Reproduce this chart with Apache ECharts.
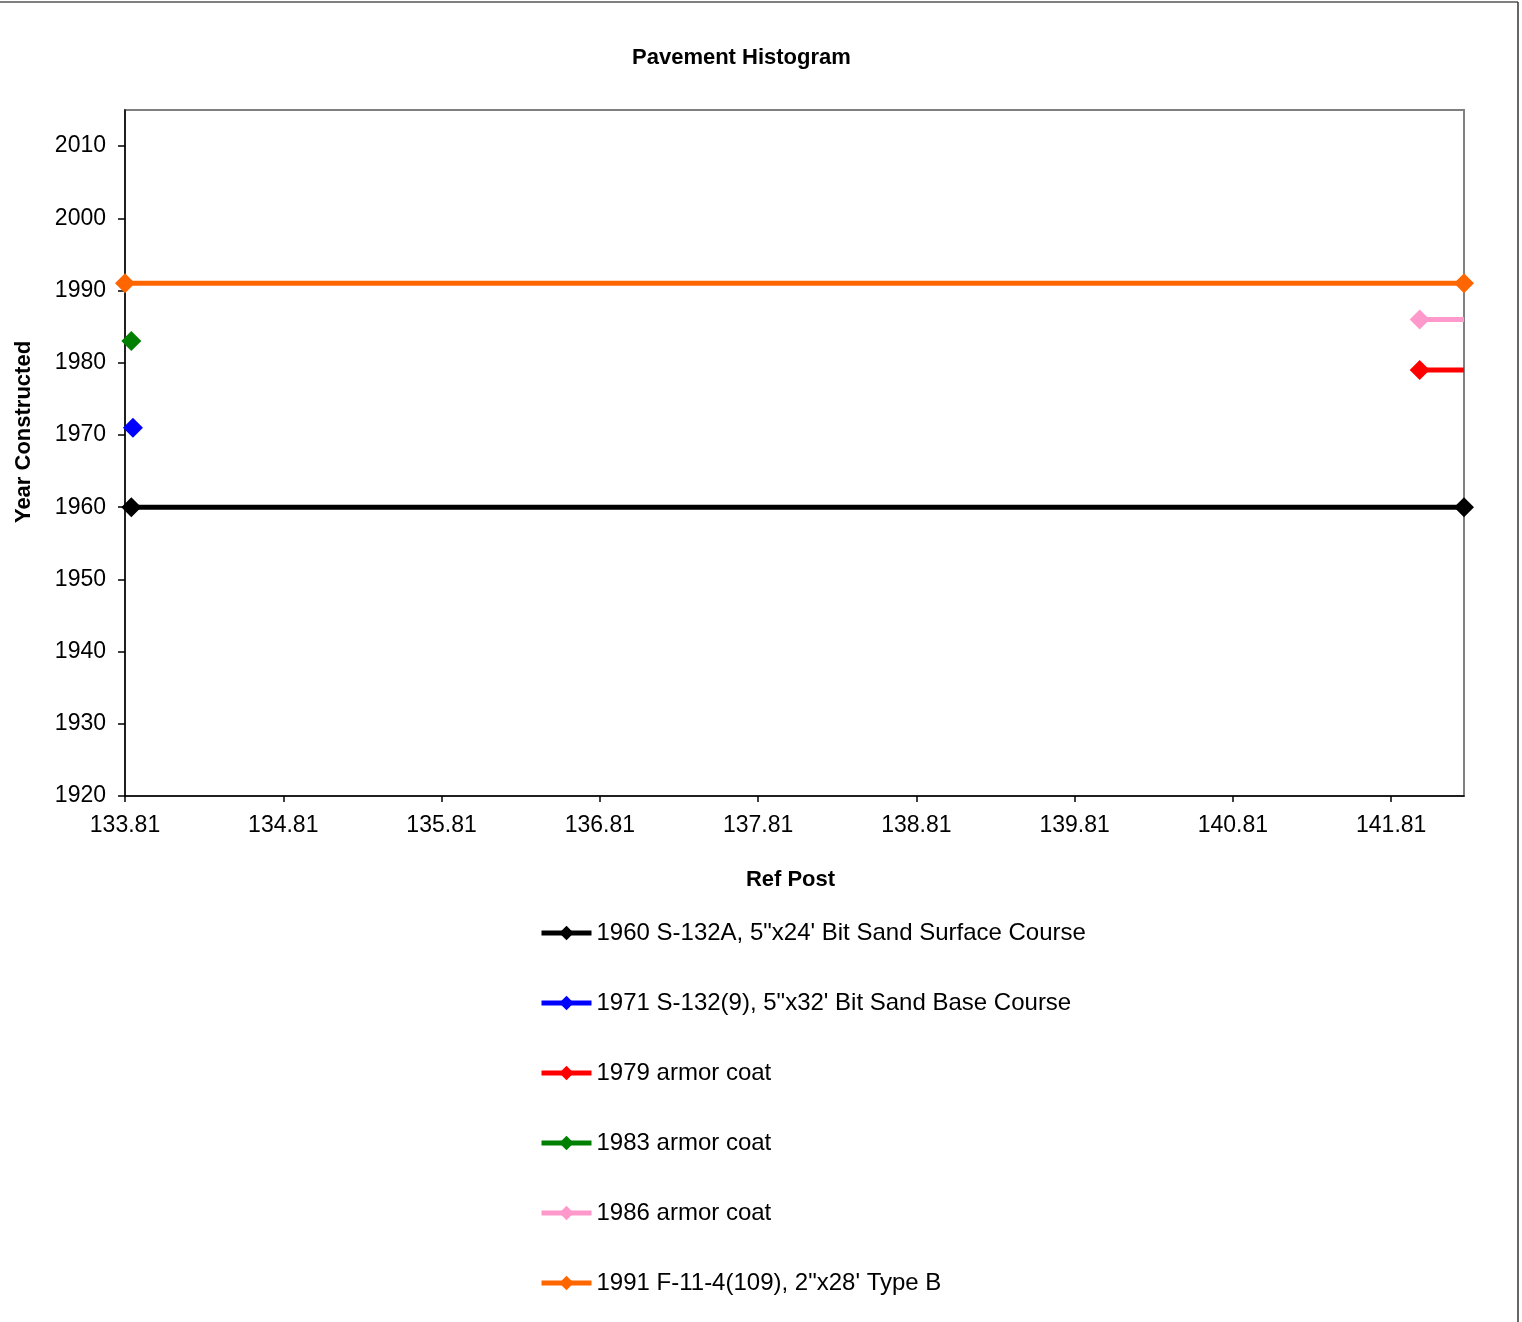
<!DOCTYPE html>
<html>
<head>
<meta charset="utf-8">
<script src="https://cdn.jsdelivr.net/npm/echarts@6/dist/echarts.min.js"></script>
<style>
html,body{margin:0;padding:0;background:#fff;}
#chart{width:1522px;height:1322px;}
</style>
</head>
<body>
<div id="chart"></div>
<script>
// ---- data ----
const seriesNames = [
  '1960 S-132A, 5"x24\' Bit Sand Surface Course',
  '1971 S-132(9), 5"x32\' Bit Sand Base Course',
  '1979 armor coat',
  '1983 armor coat',
  '1986 armor coat',
  '1991 F-11-4(109), 2"x28\' Type B'
];
const seriesColors = ['#000000', '#0000FF', '#FF0000', '#008000', '#FF99CC', '#FF6600'];
const refPost1960 = [133.85, 142.27];
const year1960 = [1960, 1960];
const refPost1971 = [133.86];
const year1971 = [1971];
const refPost1979 = [141.99, 142.27];
const year1979 = [1979, 1979];
const refPost1983 = [133.85];
const year1983 = [1983];
const refPost1986 = [141.99, 142.27];
const year1986 = [1986, 1986];
const refPost1991 = [133.81, 142.27];
const year1991 = [1991, 1991];
const xTicks = [133.81, 134.81, 135.81, 136.81, 137.81, 138.81, 139.81, 140.81, 141.81];
const yTicks = [1920, 1930, 1940, 1950, 1960, 1970, 1980, 1990, 2000, 2010];
const xMin = 133.81, xMax = 142.27, yMin = 1920, yMax = 2015;

const xs = [refPost1960, refPost1971, refPost1979, refPost1983, refPost1986, refPost1991];
const ys = [year1960, year1971, year1979, year1983, year1986, year1991];
// which end points carry no marker (line just reaches the edge)
const noEndMarker = [false, false, true, false, true, false];

const font = '"Liberation Sans", Arial, sans-serif';

const series = seriesNames.map((name, i) => ({
  name: name,
  type: 'line',
  clip: true,
  symbol: 'diamond',
  symbolSize: 20,
  showAllSymbol: true,
  color: seriesColors[i],
  lineStyle: { width: 5, color: seriesColors[i], cap: 'butt' },
  itemStyle: { color: seriesColors[i] },
  emphasis: { disabled: true },
  data: xs[i].map((x, j) => {
    const d = { value: [x, ys[i][j]] };
    if (noEndMarker[i] && j === xs[i].length - 1) d.symbol = 'none';
    return d;
  }),
  z: 2 + i
}));

const chart = echarts.init(document.getElementById('chart'), null, { renderer: 'canvas' });
chart.setOption({
  animation: false,
  backgroundColor: '#fff',
  title: {
    text: 'Pavement Histogram',
    left: 627,
    top: 42,
    textStyle: { fontFamily: font, fontSize: 22, fontWeight: 'bold', color: '#000' }
  },
  grid: {
    left: 125, right: 58, top: 110, bottom: 526,
    show: true, borderColor: '#808080', borderWidth: 2, backgroundColor: 'transparent'
  },
  xAxis: {
    type: 'value',
    min: xMin, max: xMax,
    name: 'Ref Post',
    nameLocation: 'middle',
    nameGap: 73,
    nameTextStyle: { fontFamily: font, fontSize: 22, fontWeight: 'bold', color: '#000', padding: [0, 8, 0, 0] },
    axisLine: { show: true, onZero: false, lineStyle: { color: '#000', width: 1.5 } },
    axisTick: { show: true, length: 6, customValues: xTicks, lineStyle: { color: '#000', width: 1.5 } },
    axisLabel: {
      customValues: xTicks, margin: 18,
      fontFamily: font, fontSize: 23, color: '#000',
      formatter: v => Number(v).toFixed(2)
    },
    splitLine: { show: false }
  },
  yAxis: {
    type: 'value',
    min: yMin, max: yMax,
    name: 'Year Constructed',
    nameLocation: 'middle',
    nameGap: 90,
    nameRotate: 90,
    nameTextStyle: { fontFamily: font, fontSize: 22, fontWeight: 'bold', color: '#000', padding: [0, 0, 0, 42] },
    axisLine: { show: true, lineStyle: { color: '#000', width: 1.5 } },
    axisTick: { show: true, length: 7, customValues: yTicks, lineStyle: { color: '#000', width: 1.5 } },
    axisLabel: {
      customValues: yTicks, margin: 19,
      fontFamily: font, fontSize: 23, color: '#000',
      formatter: v => String(Math.round(v))
    },
    splitLine: { show: false }
  },
  legend: {
    orient: 'vertical',
    left: 534,
    top: 916,
    itemWidth: 50,
    itemHeight: 18,
    itemGap: 46,
    data: seriesNames,
    lineStyle: { width: 5 },
    textStyle: { fontFamily: font, fontSize: 24, color: '#000', lineHeight: 24 },
    selectedMode: false
  },
  graphic: [
    { type: 'line', shape: { x1: 0, y1: 2, x2: 1518, y2: 2 }, style: { stroke: '#808080', lineWidth: 2 } },
    { type: 'line', shape: { x1: 1518, y1: 2, x2: 1518, y2: 1322 }, style: { stroke: '#333', lineWidth: 1.5 } }
  ],
  series: series
});
</script>
</body>
</html>
